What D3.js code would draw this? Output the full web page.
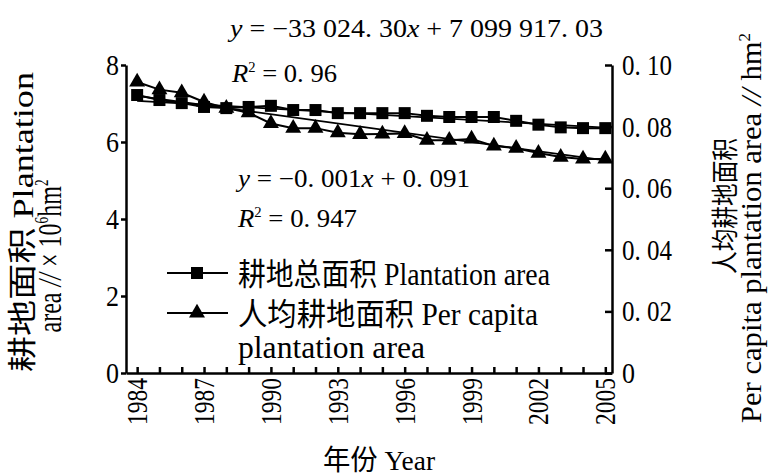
<!DOCTYPE html>
<html>
<head>
<meta charset="utf-8">
<script src="https://cdn.jsdelivr.net/npm/d3@7"></script>
<style>
  body { margin: 0; background: #fff; }
  svg { display: block; }
  text { font-family: "Liberation Serif", "Noto Sans CJK SC", serif; fill: #000; }
</style>
</head>
<body>
<div id="content"></div>
<script>
// data
var years = [1984, 1985, 1986, 1987, 1988, 1989, 1990, 1991, 1992, 1993, 1994,
             1995, 1996, 1997, 1998, 1999, 2000, 2001, 2002, 2003, 2004, 2005];
// total plantation area, x 10^6 hm2 (left axis)
var totalArea = [7.22, 7.09, 7.01, 6.91, 6.88, 6.91, 6.94, 6.83, 6.83, 6.75, 6.75,
                 6.75, 6.75, 6.68, 6.65, 6.65, 6.65, 6.55, 6.45, 6.38, 6.36, 6.36];
// per capita plantation area, hm2 (right axis)
var perCapita = [0.0945, 0.092, 0.091, 0.088, 0.086, 0.0845, 0.081, 0.0795, 0.0795, 0.078, 0.0775,
                 0.0776, 0.0778, 0.0756, 0.0756, 0.076, 0.0737, 0.073, 0.0714, 0.0701, 0.0695, 0.0695];
// fitted lines as printed on the chart, x = 1..22
var fitArea = [-33024.30, 7099917.03];   // hm2
var fitCapita = [-0.001, 0.091];
var yearLabels = [1984, 1987, 1990, 1993, 1996, 1999, 2002, 2005];
var leftTicks = [0, 2, 4, 6, 8];
var rightTicks = [0, 0.02, 0.04, 0.06, 0.08, 0.10];

var width = 768, height = 475;
var svg = d3.select('#content').append('svg')
  .attr('width', width)
  .attr('height', height);

var x = d3.scaleLinear().domain([1983.5, 2005.3]).range([126, 612]);
var yL = d3.scaleLinear().domain([0, 8]).range([373, 65]);
var yR = d3.scaleLinear().domain([0, 0.1]).range([373, 65]);

// small helper for text, optional rotate and fixed length
function label(x0, y0, str, o) {
  o = o || {};
  var t = svg.append('text')
    .attr('transform', 'translate(' + x0 + ',' + y0 + ')' + (o.rot ? ' rotate(' + o.rot + ')' : ''))
    .attr('font-size', o.size || 26)
    .attr('text-anchor', o.anchor || 'start');
  if (typeof str === 'string') str = [[str]];
  str.forEach(function(p) {
    var ts = t.append('tspan').text(p[0]);
    if (p[1] === 'i') ts.attr('font-style', 'italic');
    if (p[1] === 'sup') ts.attr('font-size', (o.size || 26) * 0.55).attr('baseline-shift', '70%');
  });
  if (o.len) t.attr('textLength', o.len).attr('lengthAdjust', 'spacingAndGlyphs');
  return t;
}

// axes
var xAxis = svg.append('g').attr('transform', 'translate(0,373)')
  .call(d3.axisBottom(x).tickValues(years).tickSizeInner(-6).tickSizeOuter(0).tickFormat(''));
var lAxis = svg.append('g').attr('transform', 'translate(126,0)')
  .call(d3.axisLeft(yL).tickValues(leftTicks).tickSizeInner(5).tickSizeOuter(0).tickFormat(''));
var rAxis = svg.append('g').attr('transform', 'translate(612,0)')
  .call(d3.axisRight(yR).tickValues(rightTicks).tickSizeInner(-7).tickSizeOuter(0).tickFormat(''));
svg.selectAll('.domain, .tick line').attr('stroke', '#000').attr('stroke-width', 2.5);

yearLabels.forEach(function(yr) {
  label(x(yr) + 10, 378, String(yr), {rot: -90, anchor: 'end', size: 30, len: 47});
});
leftTicks.forEach(function(v) {
  label(119, yL(v) + 10, String(v), {anchor: 'end', size: 30, len: 13});
});
rightTicks.forEach(function(v) {
  var s = v === 0 ? '0' : d3.format('.2f')(v).replace('.', '. ');
  label(622, yR(v) + 10, s, {size: 30, len: v === 0 ? 13 : 50});
});

// fitted trend lines
var idx = years.map(function(d, i) { return i + 1; });
var fitLine = d3.line().x(function(d) { return d[0]; }).y(function(d) { return d[1]; });
svg.append('path')
  .attr('d', fitLine([idx[0], idx[idx.length - 1]].map(function(i) {
    return [x(years[i - 1]), yL((fitArea[0] * i + fitArea[1]) / 1e6)];
  })))
  .attr('fill', 'none').attr('stroke', '#000').attr('stroke-width', 1.8);
svg.append('path')
  .attr('d', fitLine([idx[0], idx[idx.length - 1]].map(function(i) {
    return [x(years[i - 1]), yR(fitCapita[0] * i + fitCapita[1])];
  })))
  .attr('fill', 'none').attr('stroke', '#000').attr('stroke-width', 1.8);

// data lines
var lineL = d3.line().x(function(d, i) { return x(years[i]); }).y(function(d) { return yL(d); });
var lineR = d3.line().x(function(d, i) { return x(years[i]); }).y(function(d) { return yR(d); });
svg.append('path').attr('d', lineL(totalArea)).attr('fill', 'none').attr('stroke', '#000').attr('stroke-width', 2);
svg.append('path').attr('d', lineR(perCapita)).attr('fill', 'none').attr('stroke', '#000').attr('stroke-width', 2);

var sq = d3.symbol().type(d3.symbolSquare).size(144);
var tri = d3.symbol().type(d3.symbolTriangle).size(110);
svg.append('g').selectAll('path').data(totalArea).enter().append('path')
  .attr('d', sq)
  .attr('transform', function(d, i) { return 'translate(' + x(years[i]) + ',' + yL(d) + ')'; });
svg.append('g').selectAll('path').data(perCapita).enter().append('path')
  .attr('d', tri)
  .attr('transform', function(d, i) { return 'translate(' + x(years[i]) + ',' + yR(d) + ')'; });

// equations
label(230, 37, [['y', 'i'], [' = \u221233 024. 30'], ['x', 'i'], [' + 7 099 917. 03']], {size: 25, len: 373});
label(232, 82, [['R', 'i'], ['2', 'sup'], [' = 0. 96']], {size: 25, len: 105});
label(238, 187, [['y', 'i'], [' = \u22120. 001'], ['x', 'i'], [' + 0. 091']], {size: 25, len: 232});
label(238, 227, [['R', 'i'], ['2', 'sup'], [' = 0. 947']], {size: 25, len: 119});

// legend
var leg = svg.append('g');
leg.append('line').attr('x1', 167).attr('x2', 228).attr('y1', 273).attr('y2', 273).attr('stroke', '#000').attr('stroke-width', 2);
leg.append('path').attr('d', sq).attr('transform', 'translate(197,273)');
leg.append('line').attr('x1', 167).attr('x2', 228).attr('y1', 313).attr('y2', 313).attr('stroke', '#000').attr('stroke-width', 2);
leg.append('path').attr('d', tri).attr('transform', 'translate(197,313)');
label(238, 285, '耕地总面积 Plantation area', {size: 31, len: 312});
label(238, 325, '人均耕地面积 Per capita', {size: 31, len: 300});
label(238, 358, 'plantation area', {size: 31, len: 187});

// axis titles
label(33, 222, '耕地面积 Plantation', {rot: -90, anchor: 'middle', size: 29, len: 300});
label(61, 256, [['area '], ['//', 'i'], [' \u00d7 10'], ['6', 'sup'], ['hm'], ['2', 'sup']], {rot: -90, anchor: 'middle', size: 33, len: 153});
label(735, 206, '人均耕地面积', {rot: -90, anchor: 'middle', size: 27, len: 136});
label(761, 228, [['Per capita plantation area '], ['//', 'i'], [' hm'], ['2', 'sup']], {rot: -90, anchor: 'middle', size: 29, len: 390});
label(379, 470, '年份 Year', {anchor: 'middle', size: 28, len: 112});
</script>
</body>
</html>
